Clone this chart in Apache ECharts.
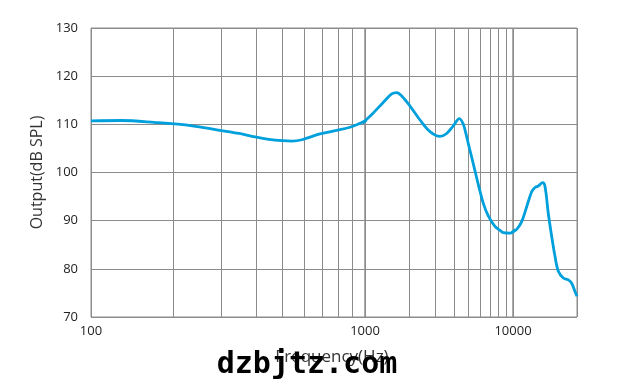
<!DOCTYPE html>
<html><head><meta charset="utf-8">
<script src="https://cdn.jsdelivr.net/npm/echarts@6/dist/echarts.min.js"></script>
<style>html,body{margin:0;padding:0;background:#fff}#c{width:618px;height:391px}</style>
</head><body><div id="c"></div>
<script>
// ---- data ----
const freqHz = [100,129,170,234,291,347,397,446,498,541,589,685,764,882,959,1000,
  1133,1323,1515,1637,1770,2014,2353,2750,3212,3565,3951,4337,4616,4866,4989,5393,5830,6300,6808,7553,8170,8600,9550,10000,
  10408,10987,11598,12240,12689,13150,13794,14144,14658,15208,15760,16340,17244,18197,18880,19567,20000];
const outputDb = [110.7,110.8,110.4,109.7,108.8,108.1,107.4,106.9,106.6,106.5,106.8,108.0,108.6,109.4,110.2,110.7,
  112.3,114.5,116.3,116.6,115.9,113.8,110.9,108.5,107.5,108.1,109.7,111.2,110.0,107.4,106.0,101.8,97.5,93.6,91.0,88.8,88.0,87.5,87.4,87.7,
  88.2,89.8,92.9,96.0,96.9,97.2,97.9,97.1,91.5,86.7,82.6,79.5,78.1,77.7,77.0,75.3,74.3];
const axisSegments = [[100,1000],[1000,10000],[10000,20000]];
const minorGridHz = [200,300,400,500,600,700,800,900,2000,3000,4000,5000,6000,7000,8000,9000];
const xTickLabels = [100, 1000, 10000];
const yMin = 70, yMax = 130, yStep = 10;
const xTitle = 'Frequency(Hz)';
const yTitle = 'Output(dB SPL)';
const watermark = 'dzbjtz.com';

// ---- layout ----
const gridLefts = [91, 365, 513];
const gridWidths = [274, 148, 64];
const gridTop = 28, gridHeight = 289;
const gridColor = '#8c8c8c';
const lineColor = '#00a0dc';
const font = 'Open Sans';

const chart = echarts.init(document.getElementById('c'), null, {renderer: 'canvas'});
const grids = [], xAxes = [], yAxes = [], series = [];
axisSegments.forEach(([lo, hi], i) => {
  grids.push({left: gridLefts[i], width: gridWidths[i], top: gridTop, height: gridHeight,
    show: true, borderColor: gridColor, borderWidth: 1, backgroundColor: 'transparent'});
  // each tick label is printed once, by the first segment that owns it
  const own = xTickLabels.filter(v => v >= lo && v <= hi && !(i > 0 && v === lo));
  xAxes.push({gridIndex: i, type: 'log', logBase: 10, min: lo, max: hi,
    axisLine: {show: false}, axisTick: {show: false},
    axisLabel: {show: true, margin: 8, fontSize: 13, color: '#222', fontFamily: font,
      formatter: v => own.some(t => Math.abs(t - v) < 1e-6 * t) ? String(Math.round(v)) : ''},
    splitLine: {show: true, lineStyle: {color: gridColor, width: 1}}});
  yAxes.push({gridIndex: i, type: 'value', min: yMin, max: yMax, interval: yStep,
    axisLine: {show: false}, axisTick: {show: false},
    axisLabel: {show: i === 0, margin: 13, fontSize: 13, color: '#222', fontFamily: font},
    name: i === 0 ? yTitle : '', nameLocation: 'middle', nameGap: 46,
    nameTextStyle: {fontSize: 16, color: '#333', fontFamily: font},
    splitLine: {show: true, lineStyle: {color: gridColor, width: 1}}});
  // include one neighbour outside each end so smoothing continues across segments
  const idx = [];
  freqHz.forEach((f, k) => { if (f >= lo && f <= hi) idx.push(k); });
  const a = Math.max(0, idx[0] - 1), b = Math.min(freqHz.length - 1, idx[idx.length - 1] + 1);
  const pts = [];
  for (let k = a; k <= b; k++) pts.push([freqHz[k], outputDb[k]]);
  series.push({type: 'line', xAxisIndex: i, yAxisIndex: i, data: pts, smooth: 0.35,
    showSymbol: false, clip: true, z: 3, animation: false,
    lineStyle: {color: lineColor, width: 2.8}, itemStyle: {color: lineColor},
    markLine: {silent: true, z: 1, symbol: ['none', 'none'], animation: false,
      label: {show: false}, lineStyle: {color: gridColor, type: 'solid', width: 1},
      emphasis: {disabled: true},
      data: minorGridHz.filter(f => f > lo && f < hi).map(f => ({xAxis: f}))}});
});

chart.setOption({
  animation: false,
  grid: grids, xAxis: xAxes, yAxis: yAxes, series: series,
  graphic: [
    {type: 'text', z: 10, style: {text: xTitle, x: 332, y: 357, align: 'center', verticalAlign: 'middle',
      fontSize: 17, fill: '#333', fontFamily: font}},
    {type: 'text', z: 20, style: {text: watermark, x: 307, y: 365, align: 'center', verticalAlign: 'middle',
      fontSize: 30, fontWeight: 'bold', fill: '#000', fontFamily: 'DejaVu Sans Mono'}}
  ]
});
</script></body></html>
